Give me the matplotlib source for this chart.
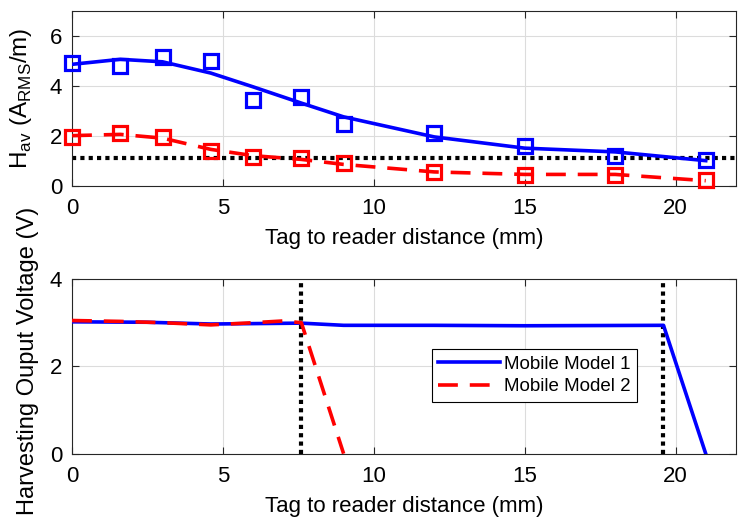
import matplotlib
matplotlib.use('Agg')
from matplotlib import pyplot as plt

plt.rcParams['font.family'] = ['Liberation Sans', 'DejaVu Sans']
plt.rcParams['mathtext.fontset'] = 'custom'
plt.rcParams['mathtext.rm'] = 'Liberation Sans'

# top panel: H_av measurements
dist = [0, 1.6, 3, 4.6, 6, 7.6, 9, 12, 15, 18, 21]
h_meas_1 = [4.9, 4.77, 5.15, 4.97, 3.44, 3.53, 2.47, 2.1, 1.6, 1.17, 1.04]
h_meas_2 = [1.96, 2.1, 1.96, 1.37, 1.15, 1.1, 0.9, 0.53, 0.44, 0.44, 0.22]
h_fit_1 = [4.85, 5.05, 4.95, 4.5, 3.95, 3.3, 2.75, 1.95, 1.5, 1.35, 1.0]
h_fit_2 = [2.0, 2.05, 1.9, 1.45, 1.2, 1.05, 0.85, 0.55, 0.45, 0.45, 0.2]
h_threshold = 1.1

# bottom panel: harvesting output voltage
v_dist_1 = [0, 2.5, 4.6, 7.6, 9, 12, 15, 19.6, 21]
v_out_1 = [3.02, 3.01, 2.97, 2.99, 2.94, 2.94, 2.93, 2.94, 0]
v_dist_2 = [0, 1.6, 3, 4.6, 6, 7, 7.6, 9]
v_out_2 = [3.05, 3.03, 3.0, 2.95, 3.0, 3.04, 3.0, 0]
v_limits = [7.6, 19.6]

blue = '#0000ff'
red = '#ff0000'
fs = 16
fs_y = 17.5

fig = plt.figure(figsize=(7.51, 5.26), dpi=100)
ax1 = fig.add_axes([0.0959, 0.647, 0.884, 0.333])
ax2 = fig.add_axes([0.0959, 0.1375, 0.884, 0.332])

ax1.plot(dist, h_fit_1, color=blue, lw=2.6, zorder=3)
ax1.plot(dist, h_fit_2, color=red, lw=2.6, dashes=(5.5, 3.3), zorder=3)
ax1.plot(dist, h_meas_1, ls='none', marker='s', ms=10, mfc='none', mec=blue, mew=2.3,
         zorder=4, clip_on=False)
ax1.plot(dist, h_meas_2, ls='none', marker='s', ms=10, mfc='none', mec=red, mew=2.3,
         zorder=4, clip_on=False)
ax1.axhline(h_threshold, color='black', lw=3, ls=(0, (1, 1)), zorder=2)
ax1.set_ylim(0, 7)
ax1.set_yticks([0, 2, 4, 6])
ax1.set_ylabel(r'H$_{\mathrm{av}}$ (A$_{\mathrm{RMS}}$/m)', fontsize=fs_y)

ax2.plot(v_dist_1, v_out_1, color=blue, lw=2.6, zorder=3, label='Mobile Model 1')
ax2.plot(v_dist_2, v_out_2, color=red, lw=2.6, dashes=(5.5, 3.3), zorder=3, label='Mobile Model 2')
for xv in v_limits:
    ax2.axvline(xv, color='black', lw=3, ls=(0, (1, 1)), zorder=2)
ax2.set_ylim(0, 4)
ax2.set_yticks([0, 2, 4])
ax2.set_ylabel('Harvesting Ouput Voltage (V)', fontsize=17)
leg = ax2.legend(loc='upper left', bbox_to_anchor=(0.542, 0.6), fontsize=13.5,
                 frameon=True, fancybox=False, edgecolor='black', framealpha=1,
                 handlelength=3.3, borderpad=0.35, labelspacing=0.3, handletextpad=0.2,
                 borderaxespad=0)
leg.get_frame().set_linewidth(0.8)

for ax in (ax1, ax2):
    ax.set_xlim(0, 22)
    ax.set_xticks([0, 5, 10, 15, 20])
    ax.set_xlabel('Tag to reader distance (mm)', fontsize=fs, labelpad=6)
    ax.grid(True, color='#dcdcdc', lw=0.8)
    ax.set_axisbelow(True)
    ax.tick_params(direction='in', top=True, right=True, labelsize=fs,
                   color='#262626', length=5)
    ax.tick_params(axis='x', pad=9)
    ax.tick_params(axis='y', pad=7)
    for sp in ax.spines.values():
        sp.set_color('#262626')
        sp.set_linewidth(0.8)

ax1.yaxis.set_label_coords(-0.058, 0.5)
ax2.yaxis.set_label_coords(-0.05, 0.53)

fig.savefig('out.png', dpi=100)
